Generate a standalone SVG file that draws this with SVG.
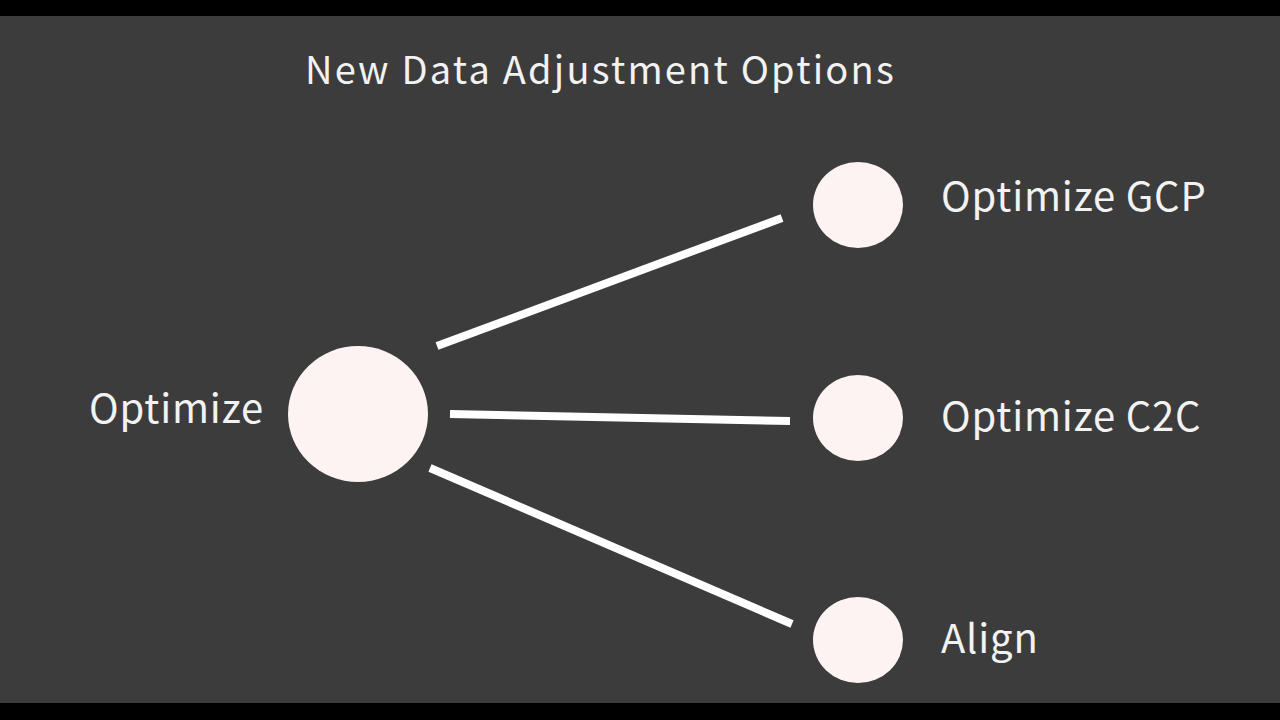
<svg xmlns="http://www.w3.org/2000/svg" width="1280" height="720" viewBox="0 0 1280 720">
<style>
text{font-family:"Noto Sans CJK JP","Noto Sans",sans-serif;fill:#f2f2f2}
.n{fill:#fdf3f2}
.c{stroke:#ffffff;stroke-width:8;fill:none}
.l{font-size:40px;letter-spacing:0.8px}
</style>
<rect width="1280" height="720" fill="#000"/>
<rect y="16" width="1280" height="687" fill="#3c3c3c"/>
<text x="305" y="84" font-size="38" letter-spacing="2.2">New Data Adjustment Options</text>
<g id="connectors">
<line class="c" x1="437" y1="346" x2="782" y2="218"/>
<line class="c" x1="450" y1="414" x2="790" y2="421"/>
<line class="c" x1="430" y1="468" x2="792" y2="624"/>
</g>
<g id="optimize"><ellipse class="n" cx="358" cy="414" rx="70" ry="68"/><text class="l" x="89" y="423" letter-spacing="0">Optimize</text></g>
<g id="gcp"><ellipse class="n" cx="858" cy="205" rx="45" ry="43"/><text class="l" x="941" y="211">Optimize GCP</text></g>
<g id="c2c"><ellipse class="n" cx="858" cy="418" rx="45" ry="43"/><text class="l" x="941" y="431">Optimize C2C</text></g>
<g id="align"><ellipse class="n" cx="858" cy="640" rx="45" ry="43"/><text class="l" x="941" y="653">Align</text></g>
</svg>
